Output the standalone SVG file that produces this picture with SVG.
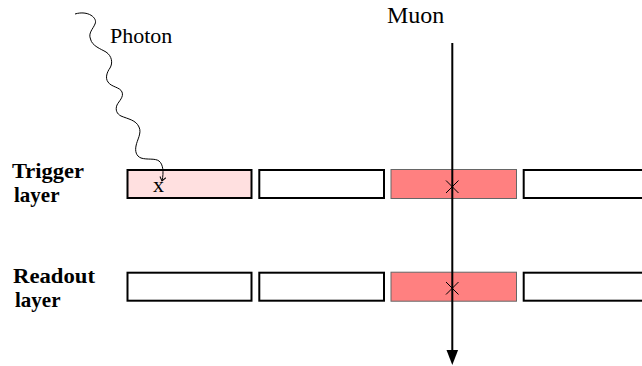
<svg xmlns="http://www.w3.org/2000/svg" width="642" height="366" viewBox="0 0 642 366">
<defs>
<style>
.lbl{font-family:"Liberation Serif","Times New Roman",serif;font-size:22px;fill:#000}
.bold{font-weight:bold;font-size:21px}
.cell{fill:#fff;stroke:#000;stroke-width:2}
.pink{fill:#ffe0e0;stroke:#000;stroke-width:2}
.hit{fill:#ff8080;stroke:#666;stroke-width:1}
.cross{stroke:#000;stroke-width:1;fill:none}
</style>
<marker id="vee" viewBox="-5 -5 10 10" refX="0" refY="0" markerWidth="10" markerHeight="10" markerUnits="userSpaceOnUse" orient="auto">
<path d="M-4,-3 L0,0 L-4,3" fill="none" stroke="#000" stroke-width="1"/>
</marker>
</defs>
<rect width="642" height="366" fill="#fff"/>

<g id="labels">
<text class="lbl" x="110" y="43">Photon</text>
<text class="lbl" x="387" y="23" style="font-size:24px">Muon</text>
<text class="lbl bold" x="12" y="178" textLength="72" lengthAdjust="spacingAndGlyphs">Trigger</text>
<text class="lbl bold" x="14" y="202">layer</text>
<text class="lbl bold" x="13" y="283" textLength="82" lengthAdjust="spacingAndGlyphs">Readout</text>
<text class="lbl bold" x="15" y="307">layer</text>
</g>

<g id="trigger-1"><rect class="pink" x="127.5" y="170" width="124" height="28"/><text class="lbl" x="153" y="192">x</text></g>
<g id="trigger-2"><rect class="cell" x="259.3" y="170" width="124.7" height="28"/></g>
<g id="trigger-3"><rect class="hit" x="391" y="169.5" width="125.5" height="29"/><path class="cross" d="M446,180.5 L458.5,193 M458.5,180.5 L446,193"/></g>
<g id="trigger-4"><rect class="cell" x="523.7" y="170" width="130" height="28"/></g>

<g id="readout-1"><rect class="cell" x="127.5" y="272.7" width="124" height="28"/></g>
<g id="readout-2"><rect class="cell" x="259.3" y="272.7" width="124.7" height="28"/></g>
<g id="readout-3"><rect class="hit" x="391" y="272.2" width="125.5" height="29"/><path class="cross" d="M446,282 L458.5,294.5 M458.5,282 L446,294.5"/></g>
<g id="readout-4"><rect class="cell" x="523.7" y="272.7" width="130" height="28"/></g>

<g id="connectors">
<path d="M75,14 C88,10 98,18 95,24 C93,29 88,33 90.5,39 C92,46 101,49 106,52 C112,56 113,63 110,68 C107,72 105,78 108,82 C111,87 120,87 122,92 C124,97 119,101 117,105 C115,110 117,114 121,116 C128,119 136,120 139,127 C142,133 137,140 136,146 C135,151 136,156 141,158 C147,160 155,158 159,161 C163,164 164,172 162,181" fill="none" stroke="#000" stroke-width="1" marker-end="url(#vee)"/>
<line x1="452.3" y1="43" x2="452.3" y2="352" stroke="#000" stroke-width="2"/>
<path d="M446.5,350 L458.1,350 L452.3,365 Z" fill="#000"/>
</g>
</svg>
